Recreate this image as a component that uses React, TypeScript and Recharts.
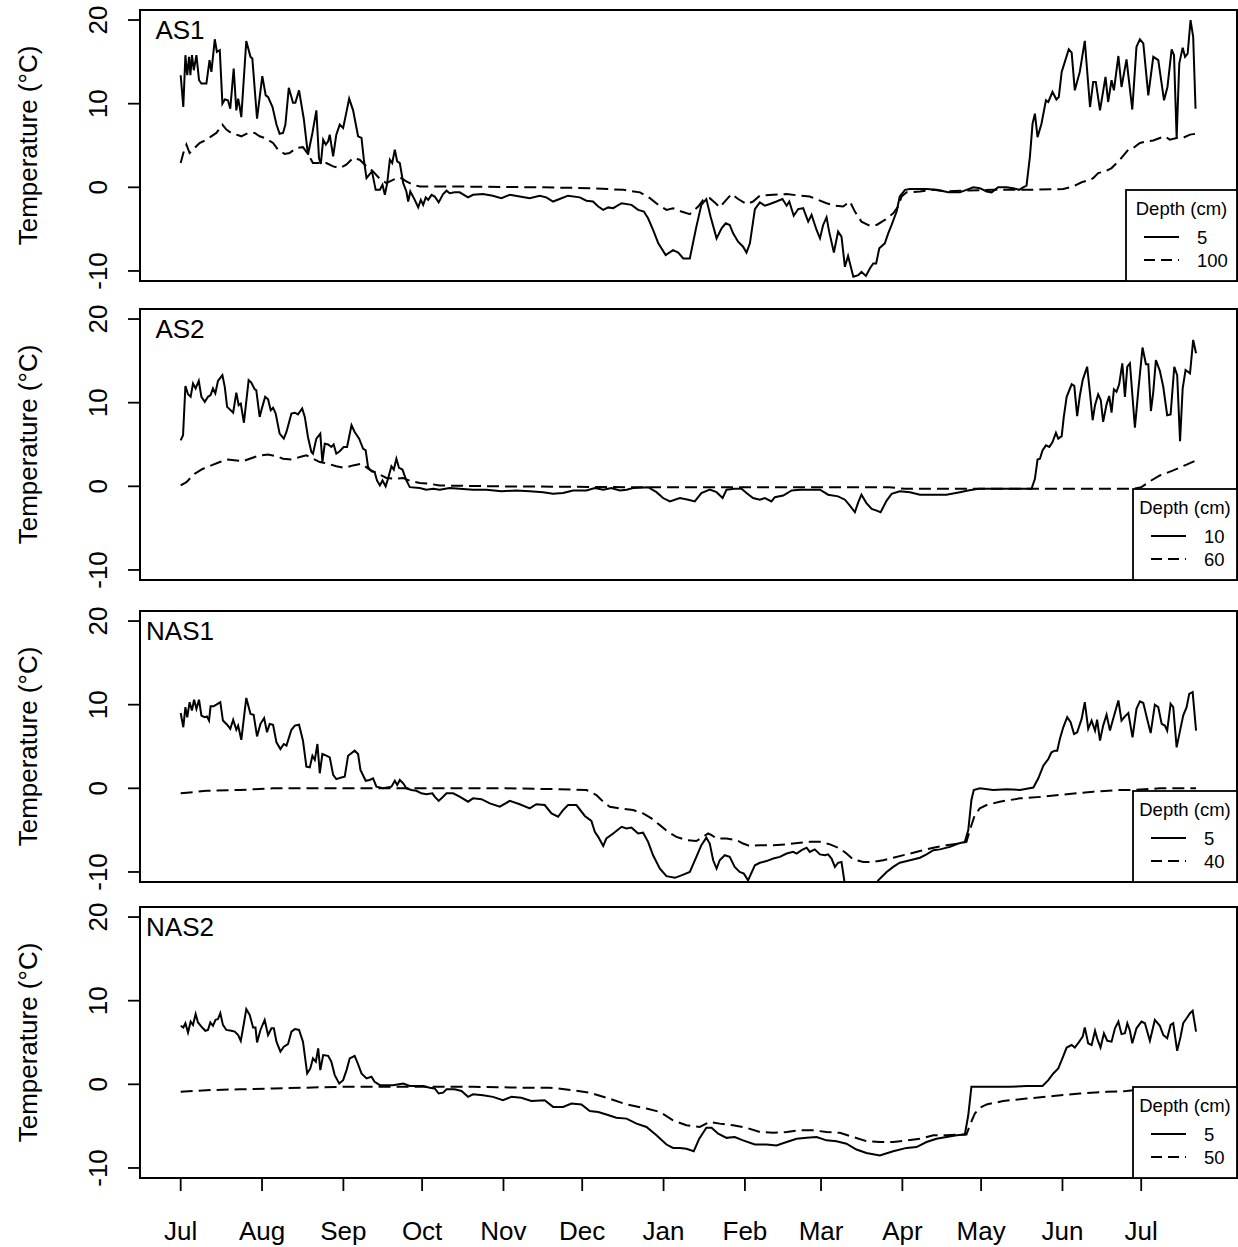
import React from 'react';
import { LineChart, Line, XAxis, YAxis, ReferenceArea } from 'recharts';

// ---------- DATA (day since 1 July, temperature °C) ----------
const monthTicks = [0, 31, 62, 92, 123, 153, 184, 215, 244, 275, 305, 336, 366];
const monthLabels = ['Jul', 'Aug', 'Sep', 'Oct', 'Nov', 'Dec', 'Jan', 'Feb', 'Mar', 'Apr', 'May', 'Jun', 'Jul'];
const yTicks = [-10, 0, 10, 20];
const siteNames = ['AS1', 'AS2', 'NAS1', 'NAS2'];
const shallowDepths = ['5', '10', '5', '5'];
const deepDepths = ['100', '60', '40', '50'];

const AS1_5: [number, number][] = [
  [0,13.4],[1,9.6],[1.8,15.8],[2.5,13.4],[3.2,15.6],[3.7,13.4],[4.3,15.8],[5,14],[6,15.8],[7,12.8],[7.9,12.4],[9.8,12.4],[11,15.2],[11.7,13.8],[13,17.7],[13.8,16.2],[14.9,16.4],[15.9,10],[16.8,10.5],[18,10.4],[18.9,9.4],[20.2,14.2],[21.2,9.2],[21.9,10.6],[22.5,9.6],[23.1,8.4],[25,17.5],[26.6,15.6],[27.3,15.4],[29.1,8.2],[31.1,13.3],[32.4,11],[33.3,10.8],[35,9.6],[36.5,7.5],[37.7,6.4],[39,6.5],[39.9,7.5],[41.2,11.9],[42.8,10.1],[43.7,10.1],[45.1,11.6],[46.9,8.2],[48.5,3.9],[50.2,6.5],[51.7,9.2],[52.7,3.5],[53.4,2.8],[54.3,5.7],[55.3,5.1],[56.2,5.5],[56.8,6.3],[58.1,3.7],[59.3,6.3],[60.6,7.5],[61.9,7.1],[62.9,8.6],[64.2,10.6],[65.7,9.2],[67.6,6.1],[68.9,5.9],[69.8,3.3],[70.8,1.1],[71.8,1.5],[72.9,1.9],[74.3,-0.3],[75.9,-0.3],[76.9,0.3],[77.8,-0.9],[78.7,0.5],[79.7,3.3],[80.6,2.9],[81.6,4.5],[82.5,3.1],[83.5,2.9],[84.8,0.5],[86,-0.5],[86.7,-1.7],[87.5,-0.5],[89.2,-1.5],[90.5,-2.4],[91.5,-1.5],[92.4,-2.1],[93.4,-1.2],[94.3,-1.5],[95.6,-0.9],[96.8,-1.1],[98.3,-1.8],[100,-0.8],[101.3,-0.4],[102.5,-0.7],[104.4,-0.6],[106.3,-0.6],[109.5,-1.2],[111.4,-0.9],[115.2,-0.8],[118.9,-1.0],[122.2,-1.3],[125.4,-0.9],[129.2,-1.1],[133,-1.3],[136.8,-1.0],[139.3,-1.2],[141.9,-1.7],[144.4,-1.4],[147.6,-1.0],[152.1,-1.2],[154.6,-1.6],[157.1,-1.7],[159.1,-2.3],[161,-2.7],[162.9,-2.4],[164.8,-2.5],[168,-1.9],[171.8,-2.1],[174.3,-2.7],[176.5,-2.9],[178.1,-3.7],[180,-5.1],[182,-6.7],[184.8,-8.1],[187.6,-7.5],[189.6,-7.8],[191.5,-8.5],[194,-8.5],[196.5,-4.7],[198.4,-2.1],[200.3,-1.4],[201.9,-3.5],[204.2,-6.1],[206.1,-4.9],[207.7,-4.3],[209.2,-4.5],[210.5,-5.5],[212.4,-6.5],[214.3,-7.1],[215.6,-7.8],[216.9,-6.7],[218.8,-2.6],[220.7,-1.8],[222.6,-2.2],[224.5,-2.0],[227,-1.7],[229.3,-1.4],[230.9,-2.2],[231.9,-1.7],[233.6,-3.4],[235.3,-2.6],[237.2,-2.5],[239.1,-4.1],[240.4,-3.3],[242.3,-5.1],[243.6,-6.1],[244.8,-4.5],[246.1,-3.6],[247.1,-5.3],[248.9,-7.8],[250.5,-5.3],[251.8,-5.9],[253.1,-9.5],[254.3,-8.2],[256.3,-10.7],[258.2,-10.5],[259.4,-10.1],[261.1,-10.6],[262.6,-9.7],[263.9,-9.1],[265,-9.1],[266.2,-7.3],[268.3,-6.7],[269.6,-5.5],[270.9,-4.5],[272.8,-2.9],[274,-1.1],[276,-0.3],[277.9,-0.2],[284.2,-0.2],[288,-0.3],[292.5,-0.6],[296.9,-0.6],[299.4,-0.3],[302,0.0],[304.5,-0.1],[307.1,-0.5],[309,-0.6],[311.5,0.0],[314.7,0.0],[317.2,-0.1],[319.5,-0.3],[321,0.0],[322.3,0.2],[323.6,3.7],[324.6,7.6],[325.5,8.8],[326.5,6.0],[328,7.6],[329.7,10.4],[330.6,10.2],[332.2,11.4],[333.7,10.5],[334.6,10.8],[335.7,13.8],[336.9,15.0],[338.4,16.5],[339.5,16.1],[340.7,11.6],[342.6,13.8],[344.5,17.5],[346.5,9.6],[347.7,12.6],[348.7,12.6],[350.3,9.2],[352.4,13.2],[353.4,10.2],[354.7,12.8],[355.6,11.6],[357.3,15.7],[358.5,12.0],[360.4,15.3],[362.6,9.3],[364.2,16.8],[365.5,17.7],[366.8,17.2],[368.7,11.0],[370.6,15.6],[372.5,15.2],[374.7,10.4],[376,12.0],[377.6,16.5],[378.5,15.8],[379.5,5.9],[380.5,14.8],[381.8,16.7],[382.7,15.6],[383.7,16.0],[384.8,20.0],[385.8,18.0],[386.7,9.4]
];

const AS1_100: [number, number][] = [
  [0,2.9],[1,4.1],[2.2,5.1],[3.4,4.1],[5.3,4.7],[7.2,5.3],[9.8,5.7],[13.6,6.5],[15.9,7.5],[17.4,6.9],[19.3,6.5],[21.2,6.3],[23.1,6.1],[25.7,6.5],[28.2,6.5],[30.1,6.1],[32,5.9],[35.2,5.3],[37.1,4.5],[39.6,4.0],[41.5,4.1],[44.1,4.7],[46.6,4.8],[48.5,4.0],[50.4,2.9],[53,2.9],[55.5,2.9],[58.1,2.5],[60.6,2.3],[63.1,2.7],[65.7,3.5],[68.2,3.3],[70.8,2.5],[73.3,1.9],[75.9,1.0],[78.4,0.5],[80.9,0.9],[83.5,1.2],[86,0.7],[88.6,0.3],[91.1,0.1],[102.5,0.1],[136.8,0.0],[155.9,-0.1],[168.6,-0.3],[175,-0.6],[178.8,-1.3],[182,-2.1],[185.1,-2.7],[187.6,-2.5],[190.8,-2.9],[194,-3.2],[197.2,-2.3],[199.1,-1.5],[201.6,-1.3],[203.5,-1.8],[205.4,-2.4],[207.3,-1.7],[209.9,-0.8],[212.4,-1.4],[215.6,-2.0],[218.1,-1.7],[220.7,-1.0],[225.8,-0.9],[230.9,-0.8],[236,-1.0],[239.7,-1.1],[242.9,-1.5],[246.1,-1.9],[249.3,-2.2],[252.4,-2.3],[255,-1.7],[256.9,-2.9],[259.4,-4.1],[262.6,-4.6],[265.2,-4.5],[268.3,-3.9],[271.5,-3.1],[273.4,-2.3],[274.7,-1.1],[276.6,-0.6],[281.7,-0.5],[286.8,-0.3],[291.8,-0.5],[296.9,-0.4],[309.6,-0.3],[322.3,-0.3],[336.3,-0.2],[340.1,0.1],[343.3,0.6],[346.5,0.9],[347.7,1.1],[349.6,1.7],[352.2,1.9],[354.7,2.3],[357.9,3.3],[361.1,4.5],[363,4.7],[365.5,5.3],[368.1,5.5],[370.6,5.6],[373.1,5.9],[375,6.1],[376.9,5.7],[379.5,5.9],[381.8,5.9],[384.6,6.3],[386.7,6.4]
];

const AS2_10: [number, number][] = [
  [0,5.5],[0.9,6.1],[1.8,12.0],[2.8,11.0],[3.8,10.7],[4.7,12.3],[5.7,11.7],[6.9,12.6],[7.9,10.7],[9.2,10.1],[10.4,10.7],[11.4,10.9],[12.3,11.7],[13.2,11.1],[14.2,12.6],[15.9,13.3],[16.8,11.9],[17.7,9.5],[18.7,9.2],[20,8.8],[21.2,11.2],[22.1,9.7],[22.9,9.9],[24.1,7.6],[25.9,12.7],[26.9,12.4],[28.2,11.6],[28.8,11.5],[30.1,8.3],[31.1,9.5],[32.2,10.7],[33.3,10.4],[34.3,9.1],[35.2,9.4],[36.2,8.7],[37.7,6.3],[39.3,5.7],[40.3,6.5],[42.2,8.7],[43.5,8.8],[44.7,8.6],[46.3,9.3],[47.3,8.3],[48.5,5.9],[49.8,4.1],[50.4,3.9],[51.7,5.7],[53.2,6.3],[54,2.9],[54.9,5.1],[56.2,5.0],[57.4,4.7],[58.3,5.0],[59.3,3.9],[60.6,4.2],[62.1,4.7],[63.4,4.7],[65.1,7.3],[66.3,6.5],[68,5.7],[69.5,4.5],[70.5,4.3],[71.4,2.3],[72.7,1.8],[73.9,1.7],[74.8,0.7],[75.9,0.1],[76.9,0.7],[78.1,0.0],[79,0.9],[80.3,2.4],[81.2,2.0],[82.2,3.3],[83.2,2.2],[84.5,2.0],[86,0.7],[87.3,-0.1],[91.1,-0.2],[93.6,-0.4],[96.2,-0.3],[98.7,-0.4],[102.5,-0.2],[106.3,-0.3],[111.4,-0.4],[116.5,-0.4],[122.2,-0.6],[127.9,-0.5],[133,-0.6],[138.1,-0.7],[141.9,-0.9],[145.7,-0.8],[149.5,-0.5],[154.6,-0.5],[157.8,-0.2],[161,-0.4],[164.1,-0.2],[167.3,-0.5],[169.9,-0.4],[172.4,-0.2],[178.1,-0.1],[181.3,-0.7],[183.8,-1.4],[186.4,-1.8],[190.2,-1.4],[193.4,-1.6],[195.9,-1.8],[198.4,-0.8],[201.6,-0.4],[204.2,-0.7],[206.5,-1.4],[208,-0.4],[211.1,-0.3],[213.7,-0.3],[215.6,-0.8],[218.1,-1.4],[220.7,-1.6],[222.6,-1.4],[225.1,-1.8],[226.4,-1.3],[229.6,-1.1],[232.8,-0.5],[236,-0.4],[239.7,-0.4],[243.6,-0.4],[246.7,-1.0],[250.5,-1.2],[253.1,-1.6],[255,-2.3],[256.9,-3.1],[258.2,-1.9],[259.4,-1.0],[261.3,-2.0],[263.3,-2.7],[265.2,-2.9],[266.7,-3.1],[269,-1.7],[270.9,-0.9],[274,-0.6],[277.9,-0.7],[281.7,-1.0],[286.8,-1.0],[291.8,-1.0],[296.9,-0.7],[300,-0.5],[304,-0.3],[309.6,-0.3],[324.2,-0.3],[325.5,0.9],[326.5,3.2],[327.4,3.3],[328.4,4.3],[329.7,4.9],[331,4.7],[332.2,5.3],[333.5,6.4],[334.4,5.7],[335.7,6.0],[336.5,8.3],[337.6,10.7],[339.5,12.2],[340.5,12.0],[341.6,8.4],[342.6,10.8],[343.7,12.7],[345.4,14.3],[346.5,11.1],[347.5,7.9],[348.4,9.7],[349.6,11.0],[350.6,10.3],[351.5,7.7],[352.8,9.8],[353.8,10.8],[354.7,8.8],[355.6,11.6],[356.6,11.3],[357.6,12.2],[358.8,14.7],[359.8,10.7],[360.7,14.3],[361.7,14.7],[363.6,7.0],[364.9,11.5],[366.5,16.6],[367.8,14.6],[368.7,14.6],[369.7,9.0],[370.6,11.3],[371.6,15.1],[373.1,13.8],[374.4,11.9],[375.9,8.5],[377.2,8.6],[378.6,14.3],[379.7,13.3],[380.8,5.4],[381.8,11.7],[382.9,13.9],[384.6,13.5],[385.8,17.5],[386.9,15.9]
];

const AS2_60: [number, number][] = [
  [0,0.1],[2.2,0.5],[5.3,1.5],[8.5,2.1],[11.7,2.5],[14.9,2.9],[18,3.2],[21.2,3.1],[23.8,3.0],[26.3,3.3],[30.1,3.7],[33.3,3.8],[36.5,3.6],[39,3.3],[42.2,3.2],[45.4,3.5],[47.9,3.7],[50.4,3.3],[53,2.9],[56.2,2.7],[59.3,2.4],[62.5,2.2],[65.7,2.5],[68.9,2.7],[72,2.0],[75.2,1.5],[78.4,1.0],[81.6,0.9],[84.8,1.0],[87.9,0.6],[91.1,0.4],[94.9,0.3],[98.7,0.1],[120,0.0],[170,-0.1],[270,-0.1],[276,-0.3],[300,-0.3],[363,-0.3],[366.1,-0.1],[369.3,0.6],[373.1,1.3],[378.2,1.9],[383.3,2.6],[386.9,3.1]
];

const NAS1_5: [number, number][] = [
  [0,9.0],[1,7.3],[1.8,9.7],[2.5,8.5],[3.4,10.3],[4.3,9.3],[5.1,10.6],[6,9.5],[7,10.6],[7.9,8.7],[9.1,8.5],[10,8.6],[10.8,8.1],[11.4,9.8],[12.5,9.8],[13.6,10.0],[15.1,10.3],[16.1,8.1],[17.7,7.6],[18.9,7.1],[20,8.2],[21.2,7.0],[21.9,7.5],[23.1,5.8],[25,10.8],[26.6,8.9],[27.8,8.8],[29.1,6.2],[30.4,7.7],[31.8,8.4],[32.9,6.7],[33.9,7.7],[35.2,7.6],[36.5,5.5],[38,4.7],[39.3,5.3],[40.3,5.1],[42.2,7.0],[43.5,7.5],[45.1,7.6],[46.6,5.7],[47.9,2.6],[49.2,2.5],[50.2,3.9],[51.1,3.4],[52.1,5.3],[53,1.8],[54,4.1],[55.5,3.9],[56.8,3.7],[58.1,1.6],[59.3,1.1],[61.2,1.3],[62.5,1.4],[63.8,3.9],[66.3,4.5],[67.6,4.1],[68.5,2.2],[70.5,0.9],[72,1.0],[73.3,1.2],[74.6,0.2],[77.1,0.0],[80.3,0.2],[81.6,0.9],[82.5,0.4],[83.5,1.0],[84.8,0.6],[86,0.0],[87.9,-0.2],[89.8,-0.3],[91.7,-0.6],[93.6,-0.7],[95.9,-0.6],[96.8,-1.0],[98.3,-1.5],[100,-1.0],[101.3,-0.6],[103.8,-0.6],[106.3,-1.0],[109.5,-1.6],[111.4,-1.2],[114.6,-1.3],[117.8,-1.8],[121.6,-2.2],[125.4,-1.5],[129.2,-1.9],[133,-2.4],[135.5,-1.9],[138.7,-2.0],[141.3,-3.0],[143.8,-3.4],[145.7,-2.6],[147.6,-2.0],[150.8,-2.0],[154,-3.3],[156.5,-3.9],[157.8,-5.2],[159.1,-5.8],[161,-6.9],[162.2,-6.0],[164.8,-5.4],[168,-4.6],[169.9,-4.8],[171.8,-4.7],[174.3,-5.4],[176.2,-5.3],[178.1,-6.4],[180,-8.0],[182.6,-9.6],[185.1,-10.5],[188.3,-10.7],[190.8,-10.4],[194,-10.0],[196.5,-8.2],[198.4,-6.8],[200.3,-5.9],[201.6,-6.6],[202.9,-8.6],[204.2,-9.6],[205.4,-8.6],[207.3,-8.0],[209.2,-8.2],[211.1,-9.4],[213,-10.0],[214.6,-10.2],[216.2,-11.0],[218.8,-9.2],[220.7,-8.9],[223.2,-8.7],[225.8,-8.4],[228.3,-8.2],[230.9,-7.8],[233.4,-7.6],[234.7,-7.8],[236.6,-7.4],[238.5,-7.1],[239.7,-7.6],[241.6,-7.3],[243.6,-7.9],[245.5,-8.0],[246.7,-7.9],[248,-8.4],[249.3,-9.4],[250.5,-8.9],[251.8,-8.8],[253.1,-11.5],[255,-13],[258,-14],[262,-13.5],[265.8,-11.0],[269,-10.0],[271.5,-9.4],[274,-8.9],[277.9,-8.6],[281.7,-8.3],[284.2,-7.9],[286.8,-7.4],[289.3,-7.3],[293.1,-7.0],[296.3,-6.6],[297.5,-6.5],[298.8,-6.4],[300.1,-5.0],[301.3,-1.4],[302.2,-0.2],[304.5,0.0],[309.6,-0.2],[314.7,-0.1],[319.8,-0.2],[324.9,0.1],[326.8,1.2],[328.7,2.7],[330.6,3.5],[331.8,4.3],[333.1,4.5],[334,4.5],[335,5.9],[336.3,7.3],[337.8,8.5],[339.1,7.9],[340.4,6.5],[341.6,6.7],[343.3,8.3],[344.5,10.3],[345.8,7.1],[347.1,8.1],[348.4,6.9],[349.2,8.2],[350.3,5.7],[351.5,7.5],[352.8,8.8],[354.1,6.9],[355.3,8.3],[357.3,10.5],[358.5,8.1],[359.8,8.6],[361.1,9.0],[362.7,6.1],[364.2,9.5],[365.5,10.4],[366.8,10.2],[368.1,8.5],[369.6,6.6],[371.2,10.0],[372.5,9.7],[373.8,7.7],[375,7.5],[375.9,6.9],[377.2,10.1],[378.2,9.7],[379.5,4.9],[380.8,6.9],[382,8.7],[383.3,9.7],[384.3,11.3],[385.6,11.5],[386.9,6.9]
];

const NAS1_40: [number, number][] = [
  [0,-0.6],[9.8,-0.3],[22.5,-0.2],[35.2,0.0],[60,0.0],[100,0.0],[124.1,0.0],[143.2,-0.1],[154.6,-0.2],[158.4,-0.8],[161,-1.6],[163.5,-2.2],[167.3,-2.4],[172.4,-2.6],[176.2,-3.0],[179.4,-3.6],[182.6,-4.4],[185.7,-5.2],[188.9,-5.8],[192.7,-6.2],[196.5,-6.3],[199.1,-5.8],[201,-5.4],[202.3,-5.6],[204.2,-6.0],[208,-6.0],[211.8,-6.2],[214.3,-6.6],[216.9,-6.9],[220.7,-6.8],[225.8,-6.8],[230.9,-6.7],[236,-6.5],[239.7,-6.4],[243.6,-6.4],[247.4,-6.7],[251.2,-7.2],[253.7,-7.8],[256.3,-8.5],[260.1,-8.8],[264,-8.8],[267.7,-8.6],[271.5,-8.3],[276.6,-7.9],[281.7,-7.5],[286.8,-7.1],[291.8,-6.8],[296.3,-6.6],[299.4,-6.4],[300.9,-4.8],[302.6,-3.2],[304.5,-2.4],[307.1,-2.0],[312.1,-1.6],[319.8,-1.2],[328.7,-1.0],[337.6,-0.7],[347.7,-0.4],[357.9,-0.2],[363,-0.2],[373.1,0.0],[386.9,0.0]
];

const NAS2_5: [number, number][] = [
  [0,7.0],[1,6.8],[1.8,7.3],[2.8,6.2],[3.8,7.5],[4.7,7.1],[5.7,8.4],[6.6,7.4],[7.9,6.9],[9.4,6.4],[10.4,6.5],[11.3,7.4],[12.3,7.0],[13.3,7.7],[14.2,7.8],[15.1,8.5],[16.1,7.1],[17.4,6.5],[19.3,6.4],[20.6,6.3],[21.9,5.9],[22.9,5.2],[24.1,7.3],[25,9.0],[26.3,8.3],[27.6,6.8],[28.5,6.8],[29.1,5.0],[30.4,6.5],[32,7.7],[33.3,5.9],[34.6,6.7],[35.5,6.7],[36.5,5.1],[38,3.9],[39.3,4.5],[40.9,4.8],[42.2,6.3],[43.5,6.6],[45.1,6.5],[46.6,5.1],[48.2,1.3],[49.4,1.9],[50.4,3.1],[51.5,2.7],[52.4,4.3],[53.2,1.7],[54.3,3.5],[56.2,3.4],[57.4,2.7],[58.7,1.1],[60.4,0.1],[61.9,0.5],[63.2,1.7],[64.4,3.1],[66.3,3.4],[67.6,2.4],[68.9,1.3],[70.8,0.7],[72.7,0.9],[73.9,0.3],[75.9,-0.1],[80.9,-0.1],[84.8,0.1],[87.3,-0.2],[92.4,-0.2],[94.9,-0.4],[96.8,-0.5],[98.3,-1.1],[100,-1.0],[101.3,-0.6],[104.4,-0.6],[107,-0.8],[109.5,-1.5],[111.4,-1.2],[115.2,-1.3],[119,-1.5],[122.8,-1.9],[126,-1.5],[129.8,-1.6],[133.6,-2.0],[138.7,-1.9],[141.9,-2.7],[145.7,-2.7],[148.9,-2.3],[152.7,-2.4],[155.9,-3.2],[159.1,-3.3],[162.2,-3.6],[166,-4.0],[169.9,-4.1],[173.7,-4.7],[177.5,-5.1],[181.3,-6.1],[185.1,-7.2],[187.6,-7.6],[190.2,-7.6],[192.7,-7.7],[195.5,-8.0],[197.6,-6.5],[200.3,-5.2],[202.3,-5.2],[204.8,-5.9],[208,-6.4],[211.1,-6.3],[214.3,-6.7],[218.8,-7.2],[223.2,-7.2],[227,-7.3],[230.9,-6.9],[234.7,-6.5],[238.5,-6.4],[242.3,-6.3],[246.1,-6.7],[249.9,-6.8],[253.7,-7.1],[257.5,-7.8],[261.3,-8.2],[266.4,-8.5],[271.5,-8.0],[276.6,-7.6],[280.4,-7.5],[284.2,-6.9],[288,-6.5],[291.8,-6.3],[295.7,-6.1],[298.8,-6.0],[300.1,-3.7],[301.3,-0.3],[304.5,-0.3],[309.6,-0.3],[316,-0.3],[322.3,-0.2],[328.4,-0.2],[330.6,0.5],[332.5,1.3],[334.4,1.9],[335.7,2.9],[337.6,4.4],[339.5,4.7],[340.7,4.4],[342.4,5.1],[343.7,5.7],[344.5,6.8],[345.8,4.9],[347.1,4.7],[348.4,6.4],[349.2,5.5],[350.5,4.4],[351.8,6.1],[353.1,5.2],[354.7,5.1],[356,6.7],[357.3,7.5],[358.5,6.0],[359.8,6.1],[360.7,7.3],[361.7,6.4],[362.6,4.9],[364.2,6.7],[366.1,7.5],[367.4,7.3],[369.3,5.2],[371.2,7.7],[373.1,7.0],[374.4,5.9],[375.9,5.5],[377.2,7.1],[378.2,7.3],[379.7,4.0],[381,5.7],[382,7.3],[383.3,7.9],[384.6,8.5],[385.6,8.8],[386.9,6.3]
];

const NAS2_50: [number, number][] = [
  [0,-0.9],[9.8,-0.7],[22.5,-0.6],[35.2,-0.5],[47.9,-0.4],[60.6,-0.3],[86,-0.3],[111.4,-0.3],[130.5,-0.4],[140.6,-0.4],[149.5,-0.7],[155.9,-1.0],[162.2,-1.6],[169.9,-2.4],[177.5,-2.9],[182.6,-3.3],[187.6,-4.3],[192.7,-4.9],[197.8,-5.1],[201.6,-4.5],[205.4,-4.7],[210.5,-4.9],[215.6,-5.2],[220.7,-5.7],[225.8,-5.8],[230.9,-5.7],[236,-5.5],[241,-5.5],[246.1,-5.7],[251.2,-5.8],[256.3,-6.3],[261.3,-6.8],[266.4,-6.9],[271.5,-6.9],[276.6,-6.7],[281.7,-6.5],[286.8,-6.1],[291.8,-6.1],[296.9,-6.0],[299.4,-6.0],[300.7,-4.9],[302.6,-3.5],[304.5,-2.8],[307.1,-2.4],[313.4,-2.0],[322.3,-1.7],[332.5,-1.4],[342.6,-1.1],[352.8,-0.9],[360.4,-0.8],[363,-0.7],[375,-0.6],[386.9,-0.5]
];

const shallowSeries = [AS1_5, AS2_10, NAS1_5, NAS2_5];
const deepSeries = [AS1_100, AS2_60, NAS1_40, NAS2_50];

// ---------- LAYOUT ----------
const W = 1238;
const H = 1247;
const FONT = '"Liberation Sans", Arial, Helvetica, sans-serif';
const X_DOMAIN: [number, number] = [-15.5, 402.5];
const Y_DOMAIN: [number, number] = [-11.2, 21.2];
const PLOT_LEFT = 140;
const PLOT_RIGHT = 1237;
const PLOT_H = 271;
const PANEL_TOPS = [10, 309, 611, 907];
const X_AXIS_H = 60;
const LEGEND_LEFT = [1126, 1133, 1133, 1133];
const LEGEND_H = 91;

const toPoints = (arr: [number, number][]) => arr.map(([d, t]) => ({ d, t }));

const YTick = (props: any) => {
  const { y, payload } = props;
  return (
    <g>
      <text
        transform={`translate(107, ${y}) rotate(-90)`}
        textAnchor="middle"
        fontSize={26}
        fontFamily={FONT}
        fill="#000"
      >
        {String(payload.value)}
      </text>
    </g>
  );
};

const XTick = (props: any) => {
  const { x, payload } = props;
  const i = monthTicks.indexOf(payload.value);
  return (
    <text x={x} y={1240} textAnchor="middle" fontSize={26} fontFamily={FONT} fill="#000">
      {i >= 0 ? monthLabels[i] : ''}
    </text>
  );
};

function Panel({ idx }: { idx: number }) {
  const top = PANEL_TOPS[idx];
  const showX = idx === 3;
  const bottom = H - (top + PLOT_H) - (showX ? X_AXIS_H : 0);
  return (
    <div style={{ position: 'absolute', left: 0, top: 0, width: W, height: H }}>
      <LineChart
        width={W}
        height={H}
        margin={{ top, right: W - PLOT_RIGHT, bottom, left: 0 }}
        style={{ fontFamily: FONT }}
      >
        <XAxis
          type="number"
          dataKey="d"
          domain={X_DOMAIN}
          ticks={monthTicks}
          interval={0}
          allowDataOverflow
          hide={!showX}
          height={X_AXIS_H}
          tickSize={13}
          tickLine={{ stroke: '#000', strokeWidth: 1.8 }}
          axisLine={{ stroke: '#000', strokeWidth: 1.8 }}
          tick={(p: any) => <XTick {...p} />}
        />
        <YAxis
          type="number"
          dataKey="t"
          domain={Y_DOMAIN}
          ticks={yTicks}
          interval={0}
          allowDataOverflow
          width={PLOT_LEFT}
          tickSize={12}
          tickLine={{ stroke: '#000', strokeWidth: 1.8 }}
          axisLine={{ stroke: '#000', strokeWidth: 1.8 }}
          tick={(p: any) => <YTick {...p} />}
        />
        <Line
          data={toPoints(shallowSeries[idx])}
          dataKey="t"
          type="linear"
          stroke="#000"
          strokeWidth={2}
          dot={false}
          activeDot={false}
          isAnimationActive={false}
        />
        <Line
          data={toPoints(deepSeries[idx])}
          dataKey="t"
          type="linear"
          stroke="#000"
          strokeWidth={2}
          strokeDasharray="12 6"
          dot={false}
          activeDot={false}
          isAnimationActive={false}
        />
        <ReferenceArea
          x1={X_DOMAIN[0]}
          x2={X_DOMAIN[1]}
          y1={Y_DOMAIN[0]}
          y2={Y_DOMAIN[1]}
          fill="none"
          fillOpacity={0}
          stroke="#000"
          strokeWidth={2}
          ifOverflow="visible"
        />
      </LineChart>
    </div>
  );
}

function Overlay() {
  return (
    <svg
      width={W}
      height={H}
      style={{ position: 'absolute', left: 0, top: 0, pointerEvents: 'none' }}
      fontFamily={FONT}
    >
      {PANEL_TOPS.map((top, i) => {
        const bottom = top + PLOT_H;
        const lx = LEGEND_LEFT[i];
        const lw = PLOT_RIGHT - lx;
        const ly = bottom - LEGEND_H;
        return (
          <g key={i}>
            <text x={180} y={top + 29} textAnchor="middle" fontSize={26} fill="#000">
              {siteNames[i]}
            </text>
            <text
              transform={`translate(37, ${top + PLOT_H / 2}) rotate(-90)`}
              textAnchor="middle"
              fontSize={26}
              fill="#000"
            >
              Temperature (°C)
            </text>
            <rect x={lx} y={ly} width={lw} height={LEGEND_H} fill="#fff" stroke="#000" strokeWidth={1.8} />
            <text x={lx + lw / 2} y={ly + 24.5} textAnchor="middle" fontSize={18.5} fill="#000">
              Depth (cm)
            </text>
            <line x1={lx + 18} x2={lx + 53} y1={ly + 47} y2={ly + 47} stroke="#000" strokeWidth={2} />
            <text x={lx + 71} y={ly + 53.5} fontSize={18.5} fill="#000">
              {shallowDepths[i]}
            </text>
            <line
              x1={lx + 18}
              x2={lx + 53}
              y1={ly + 70}
              y2={ly + 70}
              stroke="#000"
              strokeWidth={2}
              strokeDasharray="11 6"
            />
            <text x={lx + 71} y={ly + 76.5} fontSize={18.5} fill="#000">
              {deepDepths[i]}
            </text>
          </g>
        );
      })}
    </svg>
  );
}

export default function App() {
  return (
    <div style={{ position: 'absolute', left: 0, top: 0, width: W, height: H, background: '#fff' }}>
      {[0, 1, 2, 3].map((i) => (
        <Panel key={i} idx={i} />
      ))}
      <Overlay />
    </div>
  );
}
